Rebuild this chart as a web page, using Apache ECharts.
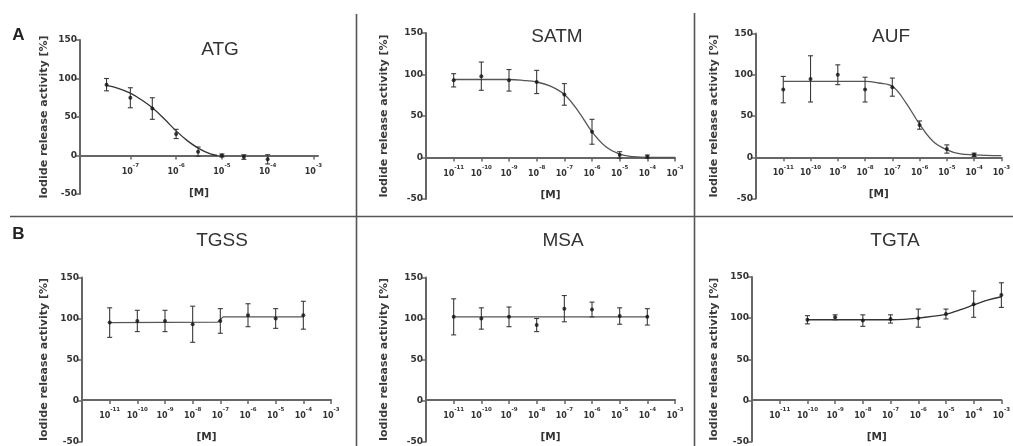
<!DOCTYPE html>
<html><head><meta charset="utf-8">
<script src="https://cdn.jsdelivr.net/npm/echarts@6/dist/echarts.min.js"></script>
<style>html,body{margin:0;padding:0;background:#fff}#c{width:1013px;height:446px}</style>
</head><body><div id="c"></div>
<script>
// ---- data (x values are log10 of molar concentration) ----
const yTicks = [-50, 0, 50, 100, 150];
const decades = [-11, -10, -9, -8, -7, -6, -5, -4, -3];
const decadesATG = [-7, -6, -5, -4, -3];

const xATG = [-7.52, -7, -6.52, -6, -5.52, -5, -4.52, -4];
const yATG = [92, 75, 61, 28, 5, 0, -2, -5];
const eATG = [8, 13, 14, 6, 6, 2, 3, 6];
const fitXATG = [-7.52, -7.25, -7, -6.75, -6.5, -6.25, -6, -5.75, -5.5, -5.25, -5.1];
const fitYATG = [91, 87, 81, 72, 61, 47, 32, 19, 9, 2, 0];

const xSATM = [-11, -10, -9, -8, -7, -6, -5, -4];
const ySATM = [93, 98, 93, 91, 76, 31, 3, 1];
const eSATM = [8, 17, 13, 14, 13, 15, 4, 2];
const fitXSATM = [-11, -10, -9, -8.5, -8, -7.5, -7, -6.5, -6, -5.5, -5, -4.5, -4, -3];
const fitYSATM = [94, 94, 94, 93, 91, 86, 76, 56, 31, 13, 4, 1, 0, 0];

const xAUF = [-11, -10, -9, -8, -7, -6, -5, -4];
const yAUF = [82, 95, 100, 82, 85, 39, 10, 3];
const eAUF = [16, 28, 12, 15, 11, 5, 5, 2];
const fitXAUF = [-11, -10, -9, -8, -7.5, -7, -6.5, -6, -5.5, -5, -4.5, -4, -3];
const fitYAUF = [92, 92, 92, 92, 90, 86, 66, 40, 19, 9, 4, 3, 2];

const xTGSS = [-11, -10, -9, -8, -7, -6, -5, -4];
const yTGSS = [95, 97, 97, 93, 97, 104, 100, 104];
const eTGSS = [18, 13, 13, 22, 15, 14, 12, 17];
const fitXTGSS = [-11, -7.1, -6.9, -4];
const fitYTGSS = [95, 95.5, 102, 102];

const xMSA = [-11, -10, -9, -8, -7, -6, -5, -4];
const yMSA = [102, 100, 102, 92, 112, 111, 103, 102];
const eMSA = [22, 13, 12, 8, 16, 9, 10, 10];
const fitXMSA = [-11, -4];
const fitYMSA = [102, 102];

const xTGTA = [-10, -9, -8, -7, -6, -5, -4, -3];
const yTGTA = [98, 101, 97, 99, 100, 105, 117, 128];
const eTGTA = [5, 3, 7, 5, 11, 6, 16, 15];
const fitXTGTA = [-10, -9, -8, -7, -6.5, -6, -5.5, -5, -4.5, -4, -3.5, -3];
const fitYTGTA = [98, 98, 98, 98, 98.5, 100, 102, 104.5, 110, 116, 122, 126];

const yName = 'Iodide release activity [%]';
const xName = '[M]';

// ---- layout ----
const panels = [
  {title:'ATG',  tx:220, ty:50,  grid:{left:80,  top:40,  width:238, height:154}, xmin:-8.1, xmax:-2.9, ticks:decadesATG, x:xATG, y:yATG, e:eATG, fx:fitXATG, fy:fitYATG, smooth:true, ygap:30, curveColor:'#333'},
  {title:'SATM', tx:557, ty:37,  grid:{left:426, top:33,  width:249, height:166}, xmin:-12, xmax:-3, ticks:decades, x:xSATM, y:ySATM, e:eSATM, fx:fitXSATM, fy:fitYSATM, smooth:true, ygap:36, curveColor:'#555'},
  {title:'AUF',  tx:891, ty:37,  grid:{left:756, top:33.5,width:248, height:165}, xmin:-12, xmax:-3, ticks:decades, x:xAUF, y:yAUF, e:eAUF, fx:fitXAUF, fy:fitYAUF, smooth:true, ygap:36, curveColor:'#555'},
  {title:'TGSS', tx:222, ty:241, grid:{left:82,  top:277.5,width:249, height:166}, xmin:-12, xmax:-3, ticks:decades, x:xTGSS, y:yTGSS, e:eTGSS, fx:fitXTGSS, fy:fitYTGSS, smooth:false, ygap:32, curveColor:'#555'},
  {title:'MSA',  tx:563, ty:241, grid:{left:426, top:277.5,width:249, height:166}, xmin:-12, xmax:-3, ticks:decades, x:xMSA, y:yMSA, e:eMSA, fx:fitXMSA, fy:fitYMSA, smooth:false, ygap:36, curveColor:'#555'},
  {title:'TGTA', tx:895, ty:241, grid:{left:752, top:277, width:251, height:166}, xmin:-12, xmax:-3, ticks:decades, x:xTGTA, y:yTGTA, e:eTGTA, fx:fitXTGTA, fy:fitYTGTA, smooth:true, ygap:32, curveColor:'#333'}
];

const axisColor = '#666';
const labelColor = '#333';
const F = 'DejaVu Sans, Arial, sans-serif';

const grids = [], xAxes = [], yAxes = [], series = [], graphics = [];

function errRender(params, api) {
  const x = api.value(0), lo = api.value(1), hi = api.value(2);
  const a = api.coord([x, lo]), b = api.coord([x, hi]);
  const w = 2.5;
  const st = {stroke:'#3a3a3a', lineWidth:1.1};
  return {type:'group', children:[
    {type:'line', shape:{x1:a[0], y1:a[1], x2:b[0], y2:b[1]}, style:st},
    {type:'line', shape:{x1:a[0]-w, y1:a[1], x2:a[0]+w, y2:a[1]}, style:st},
    {type:'line', shape:{x1:b[0]-w, y1:b[1], x2:b[0]+w, y2:b[1]}, style:st}
  ]};
}

panels.forEach((p, i) => {
  grids.push(Object.assign({}, p.grid));
  // x axis sits on the y = 0 line: 50 of the 200 y-units above the grid bottom
  const zeroOffset = -p.grid.height * 50 / 200;
  xAxes.push({
    type:'value', gridIndex:i, min:p.xmin, max:p.xmax, position:'bottom', offset:zeroOffset,
    axisLine:{onZero:false, lineStyle:{color:axisColor, width:2}},
    splitLine:{show:false},
    axisTick:{show:true, customValues:p.ticks, length:4, lineStyle:{color:axisColor, width:1.5}},
    axisLabel:{
      customValues:p.ticks, margin:7, color:labelColor,
      formatter: v => '{b|10}{s|' + v + '}',
      rich:{
        b:{fontFamily:F, fontWeight:'bold', fontSize:8, color:labelColor, verticalAlign:'bottom', lineHeight:13},
        s:{fontFamily:F, fontWeight:'bold', fontSize:5.5, color:labelColor, verticalAlign:'top', lineHeight:13}
      }
    },
    name:xName, nameLocation:'middle', nameGap:32,
    nameTextStyle:{fontFamily:F, fontWeight:'bold', fontSize:10.5, color:labelColor}
  });
  yAxes.push({
    type:'value', gridIndex:i, min:-50, max:150, interval:50,
    axisLine:{show:true, onZero:false, lineStyle:{color:axisColor, width:2}},
    axisTick:{show:true, length:4, lineStyle:{color:axisColor, width:1.5}},
    splitLine:{show:false},
    axisLabel:{fontFamily:F, fontWeight:'bold', fontSize:9, color:labelColor, margin:3},
    name:yName, nameLocation:'middle', nameGap:p.ygap,
    nameTextStyle:{fontFamily:F, fontWeight:'bold', fontSize:11, color:'#3a3a3a'}
  });
  series.push({
    type:'line', xAxisIndex:i, yAxisIndex:i, data:p.fx.map((v, k) => [v, p.fy[k]]),
    smooth:p.smooth ? 0.4 : false, showSymbol:false, symbol:'none',
    lineStyle:{color:p.curveColor, width:1.3}, silent:true, z:2
  });
  series.push({
    type:'custom', xAxisIndex:i, yAxisIndex:i, renderItem:errRender,
    encode:{x:0, y:[1, 2]},
    data:p.x.map((v, k) => [v, p.y[k] - p.e[k], p.y[k] + p.e[k]]), z:3, silent:true
  });
  series.push({
    type:'scatter', xAxisIndex:i, yAxisIndex:i, data:p.x.map((v, k) => [v, p.y[k]]),
    symbol:'circle', symbolSize:4, itemStyle:{color:'#111'}, z:4, silent:true
  });
  graphics.push({type:'text', x:p.tx, y:p.ty, style:{text:p.title, fontFamily:'Liberation Sans, Arial, sans-serif', fontSize:19, fill:'#333', align:'center', verticalAlign:'middle'}});
});

// panel dividers and letters
graphics.push({type:'line', shape:{x1:10, y1:216.5, x2:1013, y2:216.5}, style:{stroke:'#555', lineWidth:1.6}});
graphics.push({type:'line', shape:{x1:356.5, y1:14, x2:356.5, y2:446}, style:{stroke:'#555', lineWidth:1.6}});
graphics.push({type:'line', shape:{x1:694.5, y1:13, x2:694.5, y2:446}, style:{stroke:'#555', lineWidth:1.6}});
graphics.push({type:'text', x:18.5, y:35, style:{text:'A', fontFamily:'Liberation Sans, Arial, sans-serif', fontWeight:'bold', fontSize:17, fill:'#222', align:'center', verticalAlign:'middle'}});
graphics.push({type:'text', x:18.5, y:234, style:{text:'B', fontFamily:'Liberation Sans, Arial, sans-serif', fontWeight:'bold', fontSize:17, fill:'#222', align:'center', verticalAlign:'middle'}});

const chart = echarts.init(document.getElementById('c'), null, {renderer:'canvas'});
chart.setOption({
  animation:false,
  backgroundColor:'#fff',
  grid:grids, xAxis:xAxes, yAxis:yAxes, series:series, graphic:graphics
});
</script></body></html>
